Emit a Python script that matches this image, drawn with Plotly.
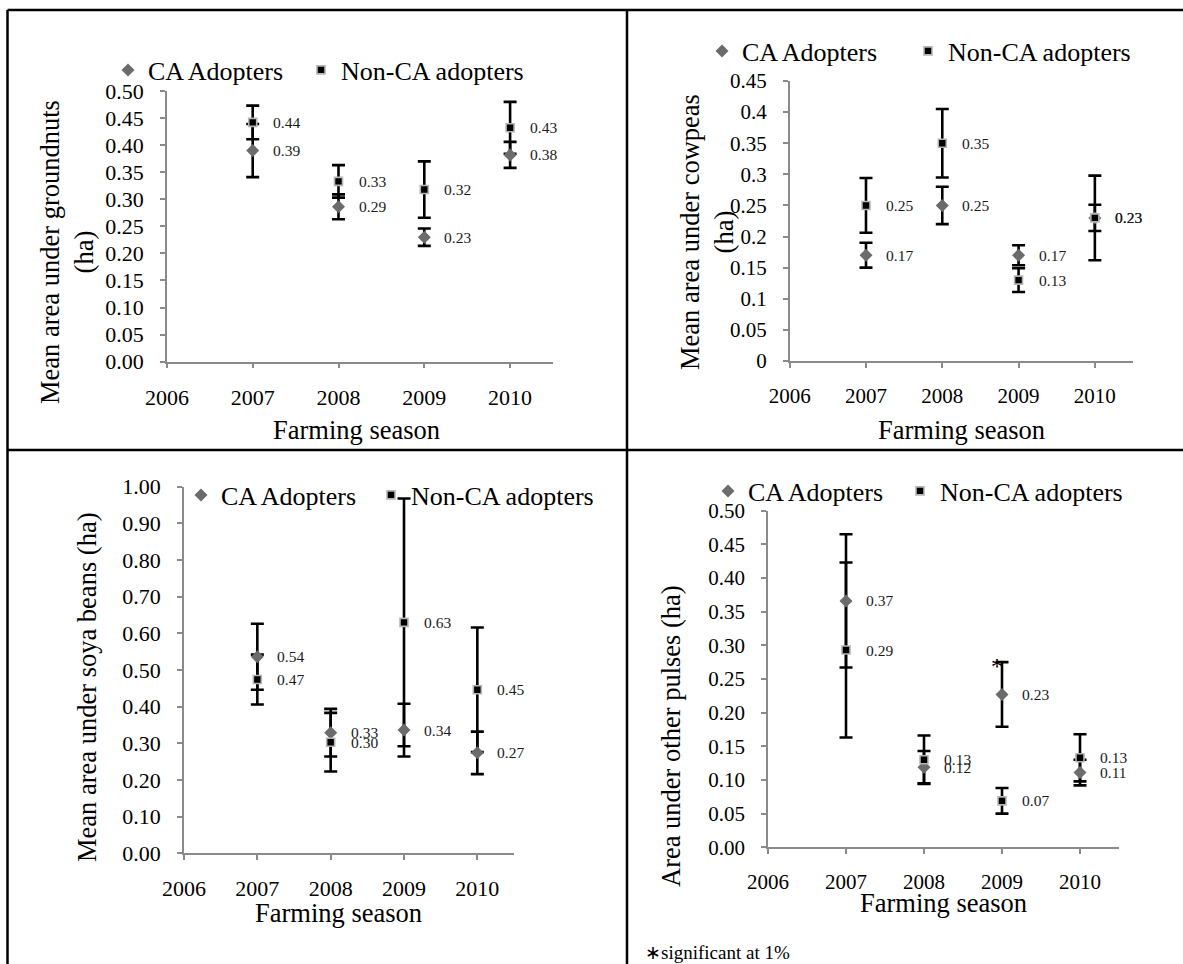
import plotly.graph_objects as go

W, H = 1183, 964

years = [2007, 2008, 2009, 2010]
x_ticks = [2006, 2007, 2008, 2009, 2010]

# Groundnuts
gn_ca = [0.390, 0.286, 0.230, 0.382]
gn_ca_se = [0.049, 0.023, 0.016, 0.024]
gn_non = [0.442, 0.333, 0.318, 0.432]
gn_non_se = [0.031, 0.030, 0.052, 0.048]

# Cowpeas
cp_ca = [0.170, 0.250, 0.170, 0.230]
cp_ca_se = [0.020, 0.030, 0.016, 0.021]
cp_non = [0.250, 0.350, 0.130, 0.230]
cp_non_se = [0.044, 0.055, 0.019, 0.068]

# Soya beans
sb_ca = [0.536, 0.329, 0.336, 0.274]
sb_ca_se = [0.090, 0.065, 0.072, 0.058]
sb_non = [0.474, 0.303, 0.630, 0.446]
sb_non_se = [0.068, 0.080, 0.338, 0.170]

# Other pulses
op_ca = [0.366, 0.119, 0.227, 0.111]
op_ca_se = [0.099, 0.024, 0.048, 0.019]
op_non = [0.293, 0.130, 0.069, 0.133]
op_non_se = [0.130, 0.036, 0.019, 0.035]

SERIES = ["CA Adopters", "Non-CA adopters"]
FONT = "Liberation Serif"


def px_x(v):
    return v / W


def px_y(v):
    return 1 - v / H


# plot-area boxes in pixels: (left, right, top, bottom)
panels = [
    dict(box=(166.9, 553, 91, 361.7), ymax=0.5, dtick=0.05, fmt=".2f",
         ca=gn_ca, ca_se=gn_ca_se, non=gn_non, non_se=gn_non_se,
         ytitle="Mean area under groundnuts<br>(ha)", ytpos=(67, 252),
         xtpos=(356, 430), leg_text=(143, 336), leg_y=72, tickfont=22),
    dict(box=(789.7, 1133, 81, 361), ymax=0.45, dtick=0.05, fmt="",
         ca=cp_ca, ca_se=cp_ca_se, non=cp_non, non_se=cp_non_se,
         ytitle="Mean area under cowpeas<br>(ha)", ytpos=(707, 232),
         xtpos=(961, 430), leg_text=(737, 943), leg_y=53, tickfont=21),
    dict(box=(184, 514, 486.7, 853.3), ymax=1.0, dtick=0.1, fmt=".2f",
         ca=sb_ca, ca_se=sb_ca_se, non=sb_non, non_se=sb_non_se,
         ytitle="Mean area under soya beans (ha)", ytpos=(87, 688),
         xtpos=(339, 913), leg_text=(216, 406), leg_y=497, tickfont=22),
    dict(box=(768, 1119, 510.7, 847.3), ymax=0.5, dtick=0.05, fmt=".2f",
         ca=op_ca, ca_se=op_ca_se, non=op_non, non_se=op_non_se,
         ytitle="Area under other pulses (ha)", ytpos=(671, 736),
         xtpos=(943, 903), leg_text=(743, 935), leg_y=493, tickfont=21),
]

fig = go.Figure()
annotations = []
layout_extra = {}

CA_COLOR = "#6b6b6b"
NON_COLOR = "#000000"
NON_EDGE = "#b5b5b5"
legend_count = 0

for i, p in enumerate(panels, start=1):
    sfx = "" if i == 1 else str(i)
    xa, ya = "x" + sfx, "y" + sfx
    left, right, top, bottom = p["box"]

    # error bars first so that every marker sits on top of them
    for vals, se in ((p["ca"], p["ca_se"]), (p["non"], p["non_se"])):
        fig.add_trace(go.Scatter(
            x=years, y=vals, mode="markers", xaxis=xa, yaxis=ya,
            marker=dict(size=1, color="rgba(0,0,0,0)"),
            error_y=dict(type="data", array=se, visible=True,
                         color="black", thickness=2.6, width=6.5),
            showlegend=False, hoverinfo="skip"))

    markers = [
        dict(symbol="diamond", size=10, color=CA_COLOR, line=dict(width=0)),
        dict(symbol="square", size=8, color=NON_COLOR,
             line=dict(width=1.6, color=NON_EDGE)),
    ]
    for name, vals, mk, tx in zip(SERIES, (p["ca"], p["non"]), markers,
                                  p["leg_text"]):
        legend_count += 1
        leg = "legend" if legend_count == 1 else f"legend{legend_count}"
        fig.add_trace(go.Scatter(
            x=years, y=vals, mode="markers", name=name,
            xaxis=xa, yaxis=ya, legend=leg, marker=mk))
        layout_extra[leg] = dict(
            x=px_x(tx - 35), y=px_y(p["leg_y"] - 2),
            xanchor="left", yanchor="middle", bgcolor="rgba(0,0,0,0)",
            borderwidth=0, font=dict(family=FONT, size=26, color="black"))

    # value labels
    for vals in (p["ca"], p["non"]):
        for yr, v in zip(years, vals):
            annotations.append(dict(
                x=yr, y=v, xref=xa, yref=ya, text=f"{v:.2f}",
                showarrow=False, xanchor="left", yanchor="middle",
                xshift=18, font=dict(family=FONT, size=15.5, color="#1a1a1a")))

    axis_common = dict(
        showline=True, linecolor="#8a8a8a", linewidth=1.5,
        ticks="outside", ticklen=5, tickcolor="#8a8a8a", tickwidth=1.5,
        showgrid=False, zeroline=False, automargin=False,
        tickfont=dict(family=FONT, size=p["tickfont"], color="black"))

    layout_extra["xaxis" + sfx] = dict(
        domain=[px_x(left), px_x(right)], range=[2006, 2010.5],
        tickvals=x_ticks, anchor=ya, ticklabelstandoff=10, **axis_common)
    layout_extra["yaxis" + sfx] = dict(
        domain=[px_y(bottom), px_y(top)], range=[0, p["ymax"]],
        dtick=p["dtick"], tick0=0, tickformat=p["fmt"], anchor=xa,
        ticklabelstandoff=12, **axis_common)

    annotations.append(dict(
        x=px_x(p["ytpos"][0]), y=px_y(p["ytpos"][1]), xref="paper", yref="paper",
        text=p["ytitle"], textangle=-90, showarrow=False,
        xanchor="center", yanchor="middle",
        font=dict(family=FONT, size=26.5, color="black")))
    annotations.append(dict(
        x=px_x(p["xtpos"][0]), y=px_y(p["xtpos"][1]), xref="paper", yref="paper",
        text="Farming season", showarrow=False,
        xanchor="center", yanchor="middle",
        font=dict(family=FONT, size=26.5, color="black")))

# significance mark on the 2009 other-pulses adopters bar
annotations.append(dict(
    x=2009, y=op_ca[2] + op_ca_se[2], xref="x4", yref="y4", text="*",
    showarrow=False, xanchor="center", yanchor="middle", xshift=-5, yshift=-4,
    font=dict(family=FONT, size=24, color="black")))
annotations.append(dict(
    x=px_x(643), y=px_y(952), xref="paper", yref="paper",
    text="\u2217significant at 1%", showarrow=False,
    xanchor="left", yanchor="middle",
    font=dict(family=FONT, size=19, color="black")))

# table rules framing the four panels
LINE = dict(color="black", width=2.5)
shapes = [
    dict(type="line", xref="paper", yref="paper", x0=px_x(7.5), x1=1,
         y0=px_y(10), y1=px_y(10), line=LINE),
    dict(type="line", xref="paper", yref="paper", x0=px_x(7.5), x1=px_x(7.5),
         y0=px_y(10), y1=0, line=LINE),
    dict(type="line", xref="paper", yref="paper", x0=px_x(627), x1=px_x(627),
         y0=px_y(10), y1=0, line=LINE),
    dict(type="line", xref="paper", yref="paper", x0=px_x(7.5), x1=1,
         y0=px_y(450), y1=px_y(450), line=LINE),
]

fig.update_layout(
    width=W, height=H,
    margin=dict(l=0, r=0, t=0, b=0, pad=0, autoexpand=False),
    paper_bgcolor="white", plot_bgcolor="white",
    font=dict(family=FONT, color="black"),
    annotations=annotations, shapes=shapes, **layout_extra)

fig.write_html("out.html")
